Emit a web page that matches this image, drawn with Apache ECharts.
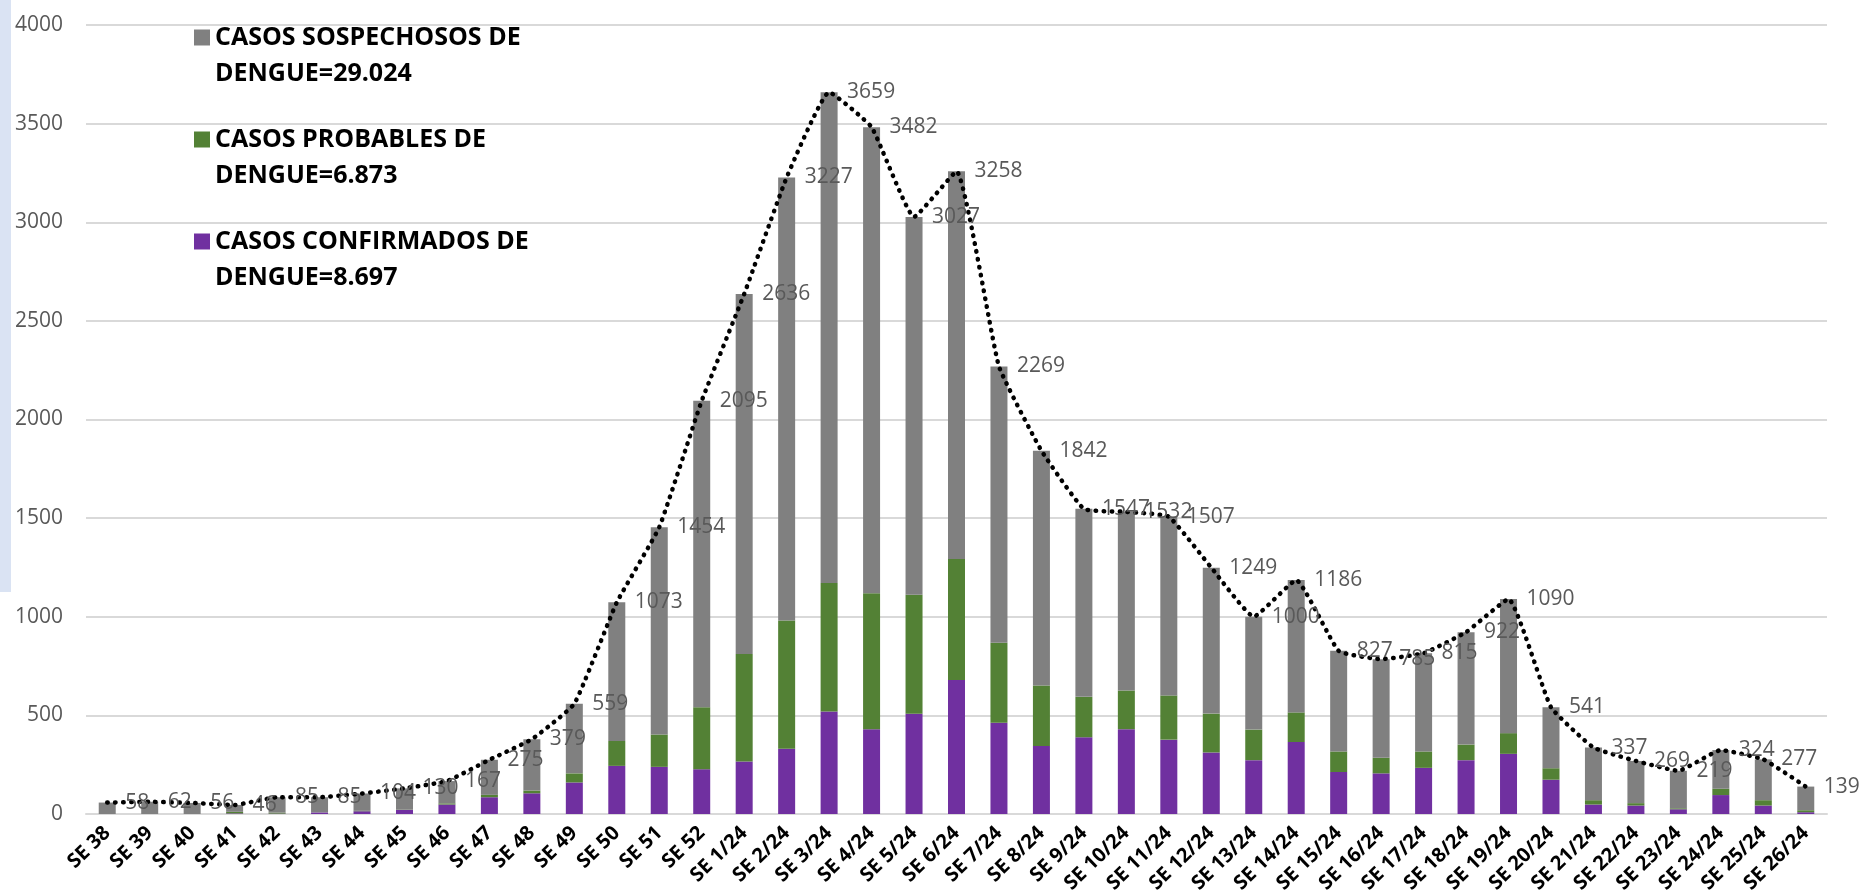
<!DOCTYPE html>
<html>
<head>
<meta charset="utf-8">
<script src="https://cdn.jsdelivr.net/npm/echarts@6/dist/echarts.min.js"></script>
<style>
html,body{margin:0;padding:0;background:#fff;}
#c{width:1868px;height:896px;}
</style>
</head>
<body>
<div id="c"></div>
<script>
const categories = ['SE 38','SE 39','SE 40','SE 41','SE 42','SE 43','SE 44','SE 45','SE 46','SE 47','SE 48','SE 49','SE 50','SE 51','SE 52',
  'SE 1/24','SE 2/24','SE 3/24','SE 4/24','SE 5/24','SE 6/24','SE 7/24','SE 8/24','SE 9/24','SE 10/24','SE 11/24','SE 12/24','SE 13/24',
  'SE 14/24','SE 15/24','SE 16/24','SE 17/24','SE 18/24','SE 19/24','SE 20/24','SE 21/24','SE 22/24','SE 23/24','SE 24/24','SE 25/24','SE 26/24'];

const confirmed = [0,0,0,3,2,8,14,22,48,85,105,160,244,239,227,
  266,331,520,430,508,679,462,345,389,430,377,312,273,
  365,213,206,234,273,305,174,48,43,24,96,43,9];

const probable = [0,0,0,8,5,0,2,2,6,12,14,46,126,164,314,
  545,650,651,689,603,614,406,307,205,196,224,197,155,
  150,104,79,83,79,105,58,22,12,5,32,27,10];

const suspected = [58,62,56,35,78,77,88,106,113,178,260,353,703,1051,1554,
  1825,2246,2488,2363,1916,1965,1401,1190,953,906,906,740,572,
  671,510,500,498,570,680,309,267,214,190,196,207,120];

const totals = [58,62,56,46,85,85,104,130,167,275,379,559,1073,1454,2095,
  2636,3227,3659,3482,3027,3258,2269,1842,1547,1532,1507,1249,1000,
  1186,827,785,815,922,1090,541,337,269,219,324,277,139];

const legendNames = {
  s: 'CASOS SOSPECHOSOS DE\nDENGUE=29.024',
  p: 'CASOS PROBABLES DE\nDENGUE=6.873',
  c: 'CASOS CONFIRMADOS DE\nDENGUE=8.697'
};
const yTicks = {min: 0, max: 4000, interval: 500};

const chart = echarts.init(document.getElementById('c'), null, {renderer: 'canvas'});

const numFont = '"Open Sans", sans-serif';

chart.setOption({
  animation: false,
  backgroundColor: '#ffffff',
  graphic: [{
    type: 'rect', left: 0, top: 0, shape: {width: 11, height: 592},
    style: {fill: '#dae3f3'}, silent: true
  }],
  grid: {left: 86, right: 41, top: 25, bottom: 82, containLabel: false},
  legend: {
    orient: 'vertical',
    left: 189,
    top: -16,
    itemWidth: 16,
    itemHeight: 16,
    itemGap: 5,
    icon: 'rect',
    data: [legendNames.s, legendNames.p, legendNames.c],
    formatter: function (name) {
      const parts = name.split('\n');
      return '{e| }\n{t|' + parts[0] + '}\n{t|' + parts[1] + '}';
    },
    textStyle: {
      rich: {
        e: {fontSize: 25, lineHeight: 36, fontFamily: numFont},
        t: {fontSize: 25, lineHeight: 36, fontWeight: 'bold', color: '#000000', fontFamily: numFont}
      }
    }
  },
  xAxis: {
    type: 'category',
    data: categories,
    axisLine: {lineStyle: {color: '#d9d9d9', width: 2}},
    axisTick: {show: false},
    axisLabel: {
      interval: 0,
      rotate: 44,
      margin: 16,
      fontFamily: numFont,
      fontWeight: 'bold',
      fontSize: 20,
      color: '#000000'
    }
  },
  yAxis: {
    type: 'value',
    min: yTicks.min,
    max: yTicks.max,
    interval: yTicks.interval,
    axisLine: {show: false},
    axisTick: {show: false},
    splitLine: {lineStyle: {color: '#d9d9d9', width: 2}},
    axisLabel: {
      margin: 23,
      fontFamily: numFont,
      fontSize: 21,
      color: '#595959',
      formatter: function (v) { return String(v); }
    }
  },
  series: [
    {
      name: legendNames.c, type: 'bar', stack: 'total', data: confirmed,
      barWidth: 17, itemStyle: {color: '#7030a0'}
    },
    {
      name: legendNames.p, type: 'bar', stack: 'total', data: probable,
      barWidth: 17, itemStyle: {color: '#538135'}
    },
    {
      name: legendNames.s, type: 'bar', stack: 'total', data: suspected,
      barWidth: 17, itemStyle: {color: '#808080'}
    },
    {
      name: 'TOTAL', type: 'line', data: totals,
      smooth: 0.12,
      symbol: 'circle',
      symbolSize: 2,
      showSymbol: true,
      itemStyle: {color: 'rgba(0,0,0,0)'},
      z: 5,
      lineStyle: {color: '#000000', width: 4.5, type: [0.5, 7.5], cap: 'round'},
      label: {
        show: true, position: 'right', distance: 17,
        fontFamily: numFont, fontSize: 21, color: '#595959'
      }
    }
  ]
});
</script>
</body>
</html>
